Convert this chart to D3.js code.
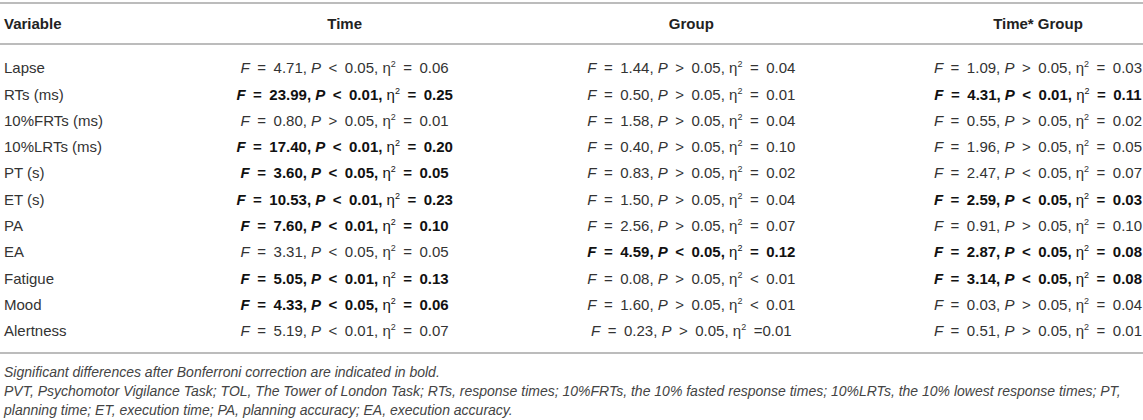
<!DOCTYPE html>
<html>
<head>
<meta charset="utf-8">
<script src="https://cdn.jsdelivr.net/npm/d3@7"></script>
<style>
  body { margin: 0; background: #fff; }
  svg text { font-family: "Liberation Sans", Arial, sans-serif; }
</style>
</head>
<body>
<div id="table"></div>
<script>
// Table data
var variables = ["Lapse", "RTs (ms)", "10%FRTs (ms)", "10%LRTs (ms)", "PT (s)", "ET (s)",
                 "PA", "EA", "Fatigue", "Mood", "Alertness"];

var headers = ["Variable", "Time", "Group", "Time* Group"];

var timeF    = ["4.71", "23.99", "0.80", "17.40", "3.60", "10.53", "7.60", "3.31", "5.05", "4.33", "5.19"];
var timeP    = ["< 0.05", "< 0.01", "> 0.05", "< 0.01", "< 0.05", "< 0.01", "< 0.01", "< 0.05", "< 0.01", "< 0.05", "< 0.01"];
var timeEta  = ["= 0.06", "= 0.25", "= 0.01", "= 0.20", "= 0.05", "= 0.23", "= 0.10", "= 0.05", "= 0.13", "= 0.06", "= 0.07"];
var timeBold = [0, 1, 0, 1, 1, 1, 1, 0, 1, 1, 0];

var groupF    = ["1.44", "0.50", "1.58", "0.40", "0.83", "1.50", "2.56", "4.59", "0.08", "1.60", "0.23"];
var groupP    = ["> 0.05", "> 0.05", "> 0.05", "> 0.05", "> 0.05", "> 0.05", "> 0.05", "< 0.05", "> 0.05", "> 0.05", "> 0.05"];
var groupEta  = ["= 0.04", "= 0.01", "= 0.04", "= 0.10", "= 0.02", "= 0.04", "= 0.07", "= 0.12", "< 0.01", "< 0.01", "=0.01"];
var groupBold = [0, 0, 0, 0, 0, 0, 0, 1, 0, 0, 0];

var interF    = ["1.09", "4.31", "0.55", "1.96", "2.47", "2.59", "0.91", "2.87", "3.14", "0.03", "0.51"];
var interP    = ["> 0.05", "< 0.01", "> 0.05", "> 0.05", "< 0.05", "< 0.05", "> 0.05", "< 0.05", "< 0.05", "> 0.05", "> 0.05"];
var interEta  = ["= 0.03", "= 0.11", "= 0.02", "= 0.05", "= 0.07", "= 0.03", "= 0.10", "= 0.08", "= 0.08", "= 0.04", "= 0.01"];
var interBold = [0, 1, 0, 0, 0, 1, 0, 1, 1, 0, 0];

var footnotes = [
  "Significant differences after Bonferroni correction are indicated in bold.",
  "PVT, Psychomotor Vigilance Task; TOL, The Tower of London Task; RTs, response times; 10%FRTs, the 10% fasted response times; 10%LRTs, the 10% lowest response times; PT,",
  "planning time; ET, execution time; PA, planning accuracy; EA, execution accuracy."
];

// Layout
var width = 1143;
var height = 420;
var fontSize = 15;

var svg = d3.select("#table")
  .append("svg")
  .attr("width", width)
  .attr("height", height);

var columns = [
  {F: timeF, P: timeP, eta: timeEta, bold: timeBold},
  {F: groupF, P: groupP, eta: groupEta, bold: groupBold},
  {F: interF, P: interP, eta: interEta, bold: interBold}
];

// column centres (the first slot is unused, Variable is left aligned)
var x = d3.scalePoint()
  .domain(headers)
  .range([-2, 1038]);

var y = d3.scalePoint()
  .domain(variables)
  .range([68, 331]);

// rules
var rules = [3, 44, 353];
svg.selectAll("line.rule")
  .data(rules)
  .enter()
  .append("line")
  .attr("class", "rule")
  .attr("x1", 0)
  .attr("x2", width)
  .attr("y1", function(d){ return d; })
  .attr("y2", function(d){ return d; })
  .attr("stroke", "#bcbcbc")
  .attr("stroke-width", 2);

// header row
svg.selectAll("text.header")
  .data(headers)
  .enter()
  .append("text")
  .attr("class", "header")
  .attr("x", function(d, i){ return i == 0 ? 4 : x(d); })
  .attr("y", 23.5)
  .attr("dy", "0.35em")
  .attr("text-anchor", function(d, i){ return i == 0 ? "start" : "middle"; })
  .attr("font-size", fontSize)
  .attr("font-weight", "bold")
  .attr("fill", "#222")
  .text(function(d){ return d; });

// variable names
svg.selectAll("text.var")
  .data(variables)
  .enter()
  .append("text")
  .attr("class", "var")
  .attr("x", 4)
  .attr("y", function(d){ return y(d); })
  .attr("dy", "0.35em")
  .attr("font-size", fontSize)
  .attr("fill", "#333")
  .text(function(d){ return d; });

// wider spacing round the math operators, like the typeset original
// ("=0.01" keeps its missing space)
var sp = "\u2002";
function op(s){
  return s.replace(/^([=<>]) /, sp + "$1" + sp).replace(/^([=<>])(?=\d)/, sp + "$1");
}

// stat cells
columns.forEach(function(col, c){
  var cells = svg.selectAll(null)
    .data(variables)
    .enter()
    .append("text")
    .attr("x", x(headers[c + 1]))
    .attr("y", function(d){ return y(d); })
    .attr("dy", "0.35em")
    .attr("text-anchor", "middle")
    .attr("font-size", fontSize)
    .attr("font-weight", function(d, i){ return col.bold[i] ? "bold" : "normal"; })
    .attr("fill", function(d, i){ return col.bold[i] ? "#111" : "#333"; });

  cells.each(function(d, i){
    var t = d3.select(this);
    t.append("tspan").attr("font-style", "italic").text("F");
    t.append("tspan").text(op("= " + col.F[i]) + ", ");
    t.append("tspan").attr("font-style", "italic").text("P");
    t.append("tspan").text(op(col.P[i]) + ", ");
    t.append("tspan").attr("font-weight", "normal").text("η");
    t.append("tspan").attr("font-weight", "normal").attr("font-size", 9).attr("dy", -6).text("2");
    t.append("tspan").attr("dy", 6).text(op(col.eta[i]));
  });
});

// footnotes
svg.selectAll("text.note")
  .data(footnotes)
  .enter()
  .append("text")
  .attr("class", "note")
  .attr("x", 4)
  .attr("y", function(d, i){ return 372 + i * 19; })
  .attr("dy", "0.35em")
  .attr("font-size", 14)
  .attr("font-style", "italic")
  .attr("fill", "#444")
  .text(function(d){ return d; });
</script>
</body>
</html>
